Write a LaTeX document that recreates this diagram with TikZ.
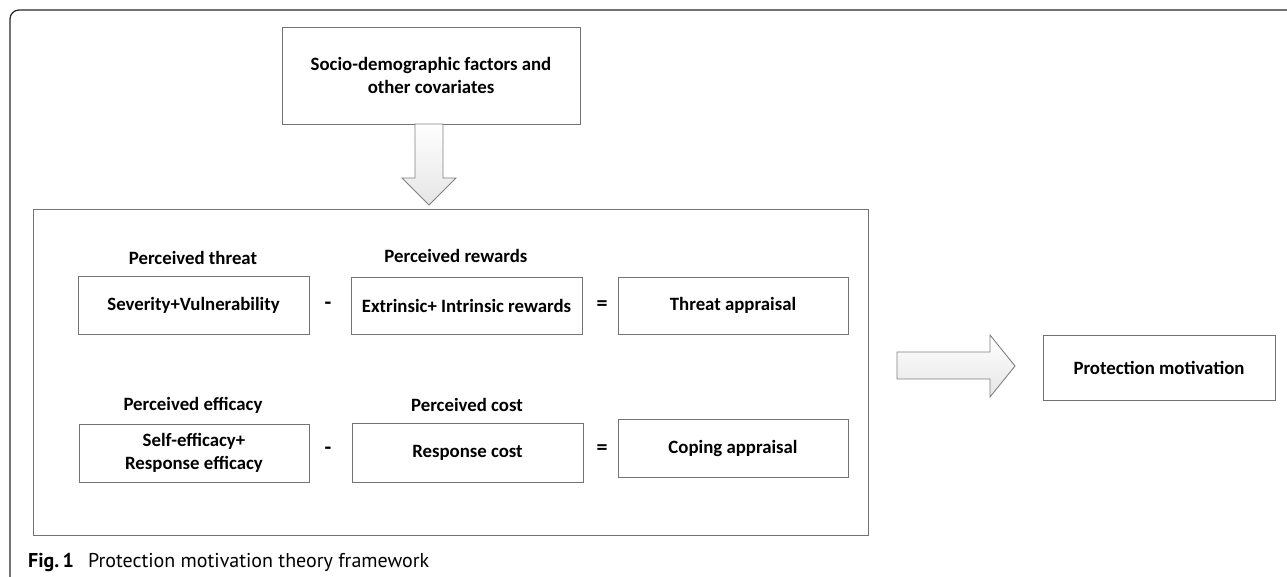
\documentclass[tikz,border=0pt]{standalone}
\usepackage{fontspec}
\setmainfont{Carlito}
\newfontfamily\capfont{PT Sans}
\usetikzlibrary{shadows}
\begin{document}
\begin{tikzpicture}[x=1pt,y=-1pt,
  box/.style={draw=black!55, line width=0.9pt, fill=white, inner sep=0pt, align=center,
    font=\fontsize{18.8}{23}\selectfont\bfseries,
    drop shadow={shadow xshift=1.2pt, shadow yshift=-1.2pt, opacity=0.15, fill=black}},
  lbl/.style={inner sep=0pt, font=\fontsize{18.8}{22}\selectfont\bfseries},
  op/.style={inner sep=0pt, font=\fontsize{22}{24}\selectfont\bfseries},
  blockarrow/.style={draw=black!50, line width=0.9pt, top color=white, bottom color=black!10, line join=miter}]
\useasboundingbox (0,0) rectangle (1287,577);
% outer frame
\draw[black!85, line width=1.2pt, rounded corners=9pt] (1290,10) -- (10,10) -- (10,580);
% socio box
\node[box, minimum width=298, minimum height=97] (socio) at (431,75.5) {Socio-demographic factors and\\other covariates};
% big box
\node[draw=black!55, line width=0.9pt, inner sep=0pt, minimum width=835, minimum height=326] (big) at (450.5,372) {};
% down arrow
\draw[blockarrow] (415,124) -- (443,124) -- (443,178) -- (456,178) -- (429,205) -- (402,178) -- (415,178) -- cycle;
% labels
\node[lbl] (lthreat) at (193,258) {Perceived threat};
\node[lbl] (lreward) at (456,256) {Perceived rewards};
\node[lbl] (leff) at (193,405) {Perceived efficacy};
\node[lbl] (lcost) at (467,405) {Perceived cost};
% boxes row 1
\node[box, minimum width=231, minimum height=58] (sev) at (193.5,305) {Severity+Vulnerability};
\node[box, minimum width=231, minimum height=57] (ext) at (466.5,305.5) {Extrinsic+ Intrinsic rewards};
\node[box, minimum width=230, minimum height=57] (thr) at (733,305.5) {Threat appraisal};
\node[op] (m1) at (328,306) {-};
\node[op] (e1) at (602,306) {=};
% boxes row 2
\node[box, minimum width=230, minimum height=58] (self) at (194,453) {Self-efficacy+\\Response efficacy};
\node[box, minimum width=231, minimum height=59] (resp) at (467.5,452.5) {Response cost};
\node[box, minimum width=230, minimum height=58] (cop) at (733,448) {Coping appraisal};
\node[op] (m2) at (328,451) {-};
\node[op] (e2) at (602,450) {=};
% right arrow
\draw[blockarrow] (897,352) -- (990,352) -- (990,335) -- (1015,366) -- (990,397) -- (990,379) -- (897,379) -- cycle;
% protection box
\node[box, minimum width=232, minimum height=65] (prot) at (1159,367.5) {Protection motivation};
% caption
\node[anchor=base west, inner sep=0pt] (cap) at (28,567) {\capfont\fontsize{20}{24}\selectfont\textbf{Fig.\,1}\hspace{0.7em}Protection motivation theory framework};
\end{tikzpicture}
\end{document}
